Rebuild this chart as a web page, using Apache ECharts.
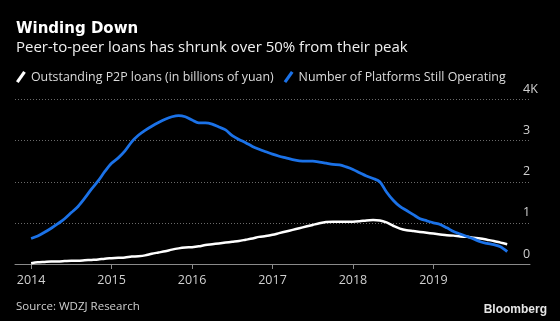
<!DOCTYPE html>
<html>
<head>
<meta charset="utf-8">
<script src="https://cdn.jsdelivr.net/npm/echarts@6/dist/echarts.min.js"></script>
<style>
  html, body { margin: 0; padding: 0; background: #000; }
  #chart { width: 560px; height: 321px; }
</style>
</head>
<body>
<div id="chart"></div>
<script>
// Monthly series, Jan 2014 through Dec 2019
const startYear = 2014;
const yearTicks = [2014, 2015, 2016, 2017, 2018, 2019];
const valueTicks = ['0', '1', '2', '3', '4K'];

// Outstanding P2P loans, in billions of yuan (plotted in thousands)
const loans = [
  0.02, 0.04, 0.05, 0.06, 0.06, 0.07, 0.08, 0.08, 0.09, 0.10, 0.11, 0.13,
  0.14, 0.15, 0.16, 0.18, 0.19, 0.21, 0.25, 0.28, 0.31, 0.35, 0.38, 0.40,
  0.41, 0.43, 0.46, 0.48, 0.50, 0.52, 0.54, 0.56, 0.59, 0.62, 0.66, 0.68,
  0.71, 0.75, 0.79, 0.83, 0.87, 0.91, 0.95, 0.99, 1.02, 1.03, 1.03, 1.03,
  1.03, 1.04, 1.06, 1.07, 1.06, 1.01, 0.93, 0.86, 0.82, 0.80, 0.78, 0.76,
  0.74, 0.72, 0.70, 0.69, 0.67, 0.66, 0.64, 0.62, 0.59, 0.56, 0.52, 0.48
];

// Number of platforms still operating, in thousands
const platforms = [
  0.62, 0.68, 0.77, 0.87, 0.98, 1.10, 1.25, 1.40, 1.60, 1.82, 2.02, 2.25,
  2.45, 2.58, 2.75, 2.97, 3.13, 3.25, 3.35, 3.44, 3.52, 3.58, 3.61, 3.58,
  3.50, 3.43, 3.43, 3.40, 3.33, 3.26, 3.12, 3.03, 2.95, 2.86, 2.79, 2.73,
  2.67, 2.62, 2.58, 2.54, 2.51, 2.50, 2.50, 2.48, 2.45, 2.42, 2.41, 2.36,
  2.30, 2.22, 2.14, 2.08, 2.00, 1.75, 1.55, 1.40, 1.30, 1.20, 1.10, 1.05,
  1.00, 0.96, 0.88, 0.79, 0.73, 0.67, 0.61, 0.54, 0.50, 0.47, 0.42, 0.30
];

const FONT = '"Open Sans", "Noto Sans", sans-serif';
const toPoints = arr => arr.map((v, i) => [startYear + i / 12, v]);
const slash = 'path://M0,10 L7,0 L9.5,1.6 L2.5,11.6 Z';

const chart = echarts.init(document.getElementById('chart'), null, { renderer: 'canvas' });

chart.setOption({
  backgroundColor: '#000',
  animation: false,
  title: {
    text: 'Winding Down',
    subtext: 'Peer-to-peer loans has shrunk over 50% from their peak',
    left: 11,
    top: 17,
    itemGap: 3,
    textStyle: { color: '#fff', fontFamily: '"DejaVu Sans", sans-serif', fontWeight: 'bold', fontSize: 15 },
    subtextStyle: { color: '#f0f0f0', fontFamily: FONT, fontSize: 15 }
  },
  legend: {
    left: 11,
    top: 66,
    itemWidth: 10,
    itemHeight: 12,
    itemGap: 10,
    icon: slash,
    textStyle: { color: '#dcdcdc', fontFamily: FONT, fontSize: 12.4 },
    data: ['Outstanding P2P loans (in billions of yuan)', 'Number of Platforms Still Operating']
  },
  grid: { left: 15, right: 30, top: 99.5, bottom: 57 },
  xAxis: {
    type: 'value',
    min: 2013.8,
    max: 2020.2,
    axisLine: { show: true, lineStyle: { color: '#8a8a8a', width: 1 } },
    axisTick: { show: true, customValues: yearTicks, length: 5, lineStyle: { color: '#8a8a8a' } },
    axisLabel: {
      customValues: yearTicks,
      formatter: v => String(Math.round(v)),
      color: '#d0d0d0', fontFamily: FONT, fontSize: 12.5, margin: 10
    },
    splitLine: { show: false }
  },
  yAxis: {
    type: 'value',
    position: 'right',
    min: 0,
    max: 4,
    interval: 1,
    axisLine: { show: false },
    axisTick: { show: false },
    axisLabel: {
      formatter: v => valueTicks[Math.round(v)],
      margin: -7,
      align: 'left',
      verticalAlign: 'bottom',
      lineHeight: 14,
      padding: [0, 0, 3, 0],
      color: '#d0d0d0', fontFamily: FONT, fontSize: 12.5
    },
    splitLine: { show: true, lineStyle: { color: '#6a6a6a', type: [1, 2], width: 1 } }
  },
  series: [
    {
      name: 'Outstanding P2P loans (in billions of yuan)',
      type: 'line',
      data: toPoints(loans),
      showSymbol: false,
      smooth: 0.3,
      color: '#ffffff',
      lineStyle: { color: '#ffffff', width: 2.5 }
    },
    {
      name: 'Number of Platforms Still Operating',
      type: 'line',
      data: toPoints(platforms),
      showSymbol: false,
      smooth: 0.3,
      color: '#1b72e8',
      lineStyle: { color: '#1b72e8', width: 2.8 }
    }
  ],
  graphic: [
    {
      type: 'text', left: 16, top: 301,
      style: { text: 'Source: WDZJ Research', fill: '#cfcfcf', font: '11.5px ' + FONT }
    },
    {
      type: 'text', right: 13, top: 304,
      style: { text: 'Bloomberg', fill: '#e6e6e6', font: 'bold 12px "Liberation Sans", Arial, sans-serif' }
    }
  ]
});
</script>
</body>
</html>
